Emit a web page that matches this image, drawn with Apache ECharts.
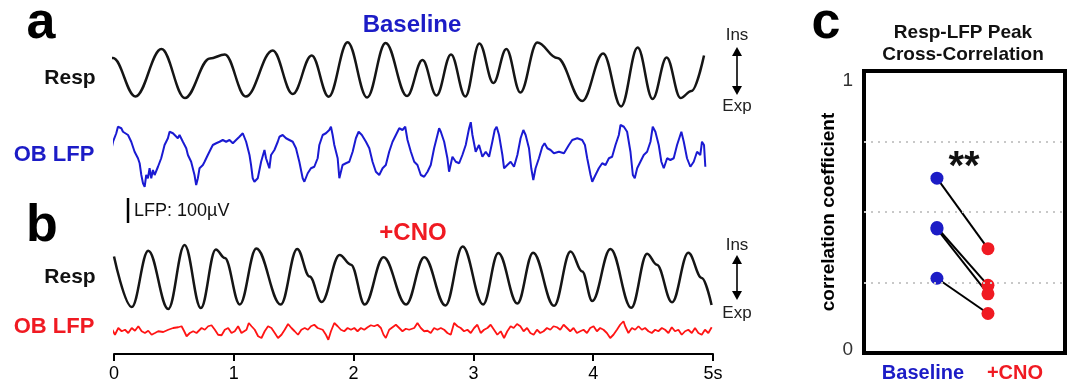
<!DOCTYPE html>
<html><head><meta charset="utf-8">
<script src="https://cdn.jsdelivr.net/npm/echarts@6/dist/echarts.min.js"></script>
<style>html,body{margin:0;padding:0;background:#fff}#c{width:1072px;height:387px}</style>
</head><body><div id="c"></div>
<script>
// ---------------- DATA ----------------
const timeTicks = [0, 1, 2, 3, 4, 5];           // seconds
// Respiration, baseline (t in s, amplitude a.u.) – extrema and shoulders
const respA = [[-0.083,21],[-0.008,17],[0.179,-21.5],[0.396,26],[0.592,-23],[0.8,16.5],[0.925,20.5],[1.1,-21.5],[1.325,24.5],[1.492,-19],[1.65,19.5],[1.792,-21.7],[1.95,32.7],[2.113,-22.5],[2.267,32],[2.446,-21],[2.575,15],[2.692,-20.5],[2.813,20.5],[2.933,-21.5],[3.05,31.5],[3.167,-8],[3.275,26],[3.392,-17.5],[3.533,32.5],[3.7,17],[3.908,-26],[4.083,21.5],[4.233,-31.5],[4.371,27.5],[4.496,-24],[4.613,17.5],[4.729,-23],[4.82,-16],[4.925,19.5]];
// OB LFP, baseline (t in s, µV)
const lfpA = [[-0.092,-67],[-0.078,-27],[-0.05,27],[-0.036,40],[-0.023,20],[-0.008,53],[0.019,87],[0.033,113],[0.061,107],[0.075,93],[0.089,100],[0.117,80],[0.131,87],[0.144,53],[0.172,13],[0.2,-13],[0.214,-33],[0.228,-80],[0.242,-113],[0.256,-127],[0.269,-80],[0.283,-93],[0.297,-53],[0.311,-93],[0.325,-60],[0.339,-80],[0.367,-47],[0.381,-53],[0.394,-13],[0.408,13],[0.422,40],[0.45,67],[0.464,93],[0.492,87],[0.506,80],[0.533,67],[0.547,80],[0.575,53],[0.603,27],[0.617,0],[0.644,-27],[0.672,-80],[0.686,-120],[0.7,-93],[0.714,-53],[0.742,-40],[0.756,-27],[0.783,0],[0.811,27],[0.825,40],[0.853,47],[0.881,53],[0.908,60],[0.936,53],[0.964,60],[0.992,47],[1.019,60],[1.047,73],[1.075,87],[1.089,80],[1.103,53],[1.131,0],[1.144,-40],[1.158,-93],[1.172,-107],
[1.2,-93],[1.228,-27],[1.256,20],[1.269,-13],[1.297,-53],[1.311,0],[1.339,20],[1.367,53],[1.381,73],[1.408,80],[1.436,67],[1.464,60],[1.492,53],[1.519,27],[1.547,-27],[1.575,-93],[1.589,-107],[1.617,-73],[1.644,-53],[1.672,-47],[1.7,-13],[1.714,40],[1.742,80],[1.769,87],[1.797,100],[1.811,113],[1.825,80],[1.839,40],[1.867,-13],[1.881,-93],[1.908,-40],[1.936,-33],[1.964,-27],[1.992,13],[2.019,67],[2.042,93],[2.069,80],[2.103,53],[2.131,27],[2.158,-27],[2.186,-67],[2.214,-80],[2.242,-53],[2.269,-40],[2.297,13],[2.325,53],[2.353,80],[2.381,107],[2.408,100],[2.431,113],[2.45,60],
[2.478,13],[2.506,-27],[2.533,-40],[2.561,-80],[2.589,-87],[2.617,-67],[2.644,-40],[2.672,27],[2.7,80],[2.714,107],[2.728,93],[2.756,53],[2.783,-13],[2.797,-67],[2.825,-7],[2.853,-27],[2.881,-33],[2.908,0],[2.936,40],[2.964,107],[2.978,131],[2.992,80],[3.019,13],[3.047,40],[3.075,-7],[3.103,13],[3.131,-7],[3.158,53],[3.178,100],[3.194,113],[3.214,80],[3.242,0],[3.256,-53],[3.283,-40],[3.311,-27],[3.339,-47],[3.367,0],[3.394,67],[3.417,100],[3.436,80],[3.464,27],[3.483,-53],[3.5,-100],[3.519,-53],[3.547,-13],[3.575,33],[3.594,47],[3.617,27],[3.644,20],[3.672,7],[3.714,13],[3.756,7],
[3.769,0],[3.797,40],[3.825,60],[3.867,67],[3.908,60],[3.931,40],[3.95,-13],[3.978,-80],[3.992,-107],[4.019,-80],[4.047,-53],[4.075,-33],[4.103,-40],[4.131,-13],[4.158,-7],[4.186,40],[4.214,80],[4.228,120],[4.256,113],[4.283,93],[4.311,13],[4.331,-80],[4.347,-93],[4.367,-53],[4.394,-27],[4.422,0],[4.45,13],[4.478,53],[4.497,113],[4.519,93],[4.547,40],[4.569,-27],[4.589,-53],[4.617,-13],[4.644,-20],[4.672,-13],[4.7,40],[4.736,93],[4.756,53],[4.783,-13],[4.811,-47],[4.839,-27],[4.867,13],[4.894,0],[4.908,53],[4.925,40],[4.936,-47]];
// Respiration, +CNO – extrema and shoulders
const respB = [[0,23.5],[0.148,-27],[0.286,29.3],[0.453,-29],[0.589,35],[0.725,-28],[0.85,30.5],[0.925,22],[1.05,-24.5],[1.188,31.5],[1.392,-24.5],[1.529,31],[1.633,3.5],[1.733,-22],[1.883,25],[1.978,15.3],[2.093,-24.5],[2.25,22.7],[2.438,-24.5],[2.59,22.8],[2.767,-25.5],[2.91,33.5],[3.081,-24.5],[3.208,27],[3.367,-23.5],[3.498,27.3],[3.673,-25.8],[3.811,28.5],[3.908,8.5],[3.992,-21],[4.144,31],[4.318,-27.8],[4.45,26.3],[4.531,15.3],[4.658,-22.3],[4.794,27.2],[4.906,2],[4.988,-25]];
// OB LFP, +CNO (µV)
const lfpB = [[-0.014,1],[0.008,-19],[0.036,8],[0.064,-5],[0.092,1],[0.119,-12],[0.148,8],[0.175,-3],[0.203,15],[0.231,-5],[0.258,-12],[0.286,-3],[0.314,-19],[0.342,-12],[0.369,-5],[0.411,-8],[0.453,1],[0.494,8],[0.536,11],[0.564,15],[0.586,-5],[0.606,-25],[0.633,-12],[0.661,-5],[0.689,-12],[0.731,8],[0.758,1],[0.786,15],[0.814,19],[0.842,1],[0.869,-19],[0.898,-21],[0.925,1],[0.953,8],[0.981,-12],[1.008,-5],[1.036,15],[1.064,-12],[1.106,1],[1.125,28],[1.148,15],[1.175,1],[1.203,-25],[1.231,-32],[1.258,-5],[1.286,15],[1.314,8],[1.342,-12],[1.369,-32],[1.398,-19],[1.425,1],[1.453,24],[1.481,8],[1.508,-5],[1.536,-19],[1.564,1],[1.592,8],[1.619,1],
[1.644,15],[1.672,21],[1.7,8],[1.742,1],[1.769,-19],[1.789,-39],[1.811,-5],[1.839,28],[1.867,15],[1.894,1],[1.922,-5],[1.95,8],[1.978,1],[2.006,8],[2.033,-5],[2.061,8],[2.089,1],[2.117,11],[2.144,19],[2.172,15],[2.2,21],[2.228,8],[2.25,-19],[2.269,-32],[2.297,1],[2.325,11],[2.353,21],[2.381,8],[2.408,-5],[2.436,5],[2.464,1],[2.506,8],[2.533,28],[2.561,8],[2.589,-5],[2.617,-3],[2.644,-12],[2.672,8],[2.7,1],[2.728,8],[2.756,1],[2.783,-12],[2.811,-19],[2.839,28],[2.867,15],[2.894,8],[2.922,-5],[2.95,1],[2.978,-12],[3.006,8],[3.033,21],[3.061,-12],[3.089,1],[3.117,8],[3.144,21],[3.172,1],[3.2,-19],[3.228,-5],[3.256,-32],[3.283,-5],[3.311,15],
[3.336,8],[3.364,24],[3.392,15],[3.419,-5],[3.448,8],[3.475,-12],[3.503,-19],[3.531,1],[3.558,-12],[3.586,-5],[3.614,8],[3.642,1],[3.669,15],[3.698,11],[3.725,1],[3.753,21],[3.781,8],[3.808,-5],[3.836,8],[3.864,-12],[3.892,-5],[3.919,1],[3.948,-12],[3.975,8],[4.003,15],[4.031,-5],[4.058,8],[4.086,1],[4.114,-12],[4.142,-32],[4.169,-19],[4.198,1],[4.225,21],[4.253,35],[4.267,15],[4.294,-12],[4.323,8],[4.35,1],[4.378,15],[4.406,1],[4.433,8],[4.461,-5],[4.489,-12],[4.517,1],[4.544,-5],[4.573,8],[4.6,1],[4.628,-12],[4.656,11],[4.683,-5],[4.711,1],[4.739,-19],[4.767,-5],[4.794,1],[4.823,-12],[4.85,8],[4.878,-12],[4.906,-19],[4.933,1],[4.961,-12],[4.989,11]];
const scaleBarUV = 100;                           // LFP scale bar (µV)
// Panel c
const corrCategories = ['Baseline', '+CNO'];
const corrBaseline = [0.62, 0.445, 0.44, 0.265];
const corrCNO      = [0.37, 0.24, 0.21, 0.14];
const corrGridLines = [0.25, 0.5, 0.75];
const corrTicks = [0, 1];

// ---------------- STYLE ----------------
const FONT = '"Liberation Sans", Arial, Helvetica, sans-serif';
const BLUE = '#1c1cc6', RED = '#f01a22', TRACE_BLUE = '#1a1ad2', TRACE_RED = '#ff1414';
const L = 114, W = 599;

const chart = echarts.init(document.getElementById('c'), null, {renderer: 'canvas'});

const hiddenX = (g) => ({gridIndex: g, type: 'value', min: timeTicks[0], max: timeTicks[timeTicks.length-1], show: false});
const hiddenY = (g, mn, mx) => ({gridIndex: g, type: 'value', min: mn, max: mx, show: false});

function txt(text, x, y, size, color, weight, align) {
  return {type: 'text', x: x, y: y, silent: true, style: {
    text: text, fill: color || '#000', font: (weight || 'normal') + ' ' + size + 'px ' + FONT,
    align: align || 'center', verticalAlign: 'middle', textAlign: align || 'center', textVerticalAlign: 'middle'}};
}
function arrow(x, y1, y2) {
  return [
    {type: 'line', silent: true, shape: {x1: x, y1: y1 + 7, x2: x, y2: y2 - 7}, style: {stroke: '#000', lineWidth: 1.6}},
    {type: 'polygon', silent: true, shape: {points: [[x, y1], [x - 5, y1 + 9], [x + 5, y1 + 9]]}, style: {fill: '#000'}},
    {type: 'polygon', silent: true, shape: {points: [[x, y2], [x - 5, y2 - 9], [x + 5, y2 - 9]]}, style: {fill: '#000'}}
  ];
}

const corrLineSeries = corrBaseline.map((b, i) => ({
  type: 'line', xAxisIndex: 4, yAxisIndex: 4, z: 3, showSymbol: false, silent: true,
  lineStyle: {color: '#000', width: 2},
  data: [[0, b], [1, corrCNO[i]]]
}));

const respStyle = {smooth: 0.38, smoothMonotone: 'x', showSymbol: false, clip: false,
                   lineStyle: {color: '#151515', width: 2.5}};

const option = {
  animation: false,
  textStyle: {fontFamily: FONT},
  grid: [
    {left: L, width: W, top: 35, height: 75},
    {left: L, width: W, top: 110, height: 115},
    {left: L, width: W, top: 238, height: 80},
    {left: L, width: W, top: 318, height: 36},
    {left: 864, width: 201, top: 71, height: 282, show: true, borderColor: '#000', borderWidth: 4, backgroundColor: 'transparent'}
  ],
  xAxis: [
    hiddenX(0), hiddenX(1), hiddenX(2),
    {gridIndex: 3, type: 'value', min: timeTicks[0], max: timeTicks[timeTicks.length-1], interval: 1,
     axisLine: {show: true, onZero: false, lineStyle: {color: '#000', width: 2}},
     axisTick: {show: true, length: 7, lineStyle: {color: '#000', width: 2}},
     splitLine: {show: false},
     axisLabel: {margin: 11, fontSize: 18, color: '#000', fontFamily: FONT,
       formatter: v => (v === timeTicks[timeTicks.length-1] ? v + 's' : String(v))}},
    {gridIndex: 4, type: 'value', min: -1.43, max: 2.51, show: false}
  ],
  yAxis: [
    hiddenY(0, -35, 40),
    hiddenY(1, -280, 180),
    hiddenY(2, -38, 42),
    hiddenY(3, -96, 48),
    {gridIndex: 4, type: 'value', min: 0, max: 1, interval: 0.25,
     axisLine: {show: false}, axisTick: {show: false}, splitLine: {show: false},
     name: 'correlation coefficient', nameLocation: 'middle', nameGap: 20,
     nameTextStyle: {fontSize: 19, fontWeight: 'bold', color: '#000', fontFamily: FONT},
     axisLabel: {margin: 11, color: '#333', fontSize: 19, fontFamily: FONT,
       formatter: v => (v === corrTicks[1] ? '{t|' + v + '}' : v === corrTicks[0] ? '{b|' + v + '}' : ''),
       rich: {t: {padding: [20, 0, 0, 0], fontSize: 19, color: '#333'}, b: {padding: [0, 0, 6, 0], fontSize: 19, color: '#333'}}}}
  ],
  series: [
    Object.assign({type: 'line', name: 'Resp baseline', xAxisIndex: 0, yAxisIndex: 0, data: respA}, respStyle),
    {type: 'line', name: 'OB LFP baseline', xAxisIndex: 1, yAxisIndex: 1, data: lfpA, showSymbol: false, clip: false,
     lineStyle: {color: TRACE_BLUE, width: 2}},
    {type: 'line', name: 'scale bar', xAxisIndex: 1, yAxisIndex: 1, showSymbol: false, clip: false,
     data: [[0.117, -272], [0.117, -272 + scaleBarUV]], lineStyle: {color: '#000', width: 2.5}},
    Object.assign({type: 'line', name: 'Resp CNO', xAxisIndex: 2, yAxisIndex: 2, data: respB}, respStyle),
    {type: 'line', name: 'OB LFP CNO', xAxisIndex: 3, yAxisIndex: 3, data: lfpB, showSymbol: false, clip: false,
     lineStyle: {color: TRACE_RED, width: 1.8}},
    {type: 'line', xAxisIndex: 4, yAxisIndex: 4, data: [], z: 1, silent: true,
     markLine: {silent: true, symbol: 'none', label: {show: false},
       lineStyle: {type: [2, 5], color: '#c8c8c8', width: 2},
       data: corrGridLines.map(v => ({yAxis: v}))}},
    ...corrLineSeries,
    {type: 'scatter', name: corrCategories[0], xAxisIndex: 4, yAxisIndex: 4, z: 4, symbolSize: 13,
     itemStyle: {color: BLUE, opacity: 1}, data: corrBaseline.map(v => [0, v])},
    {type: 'scatter', name: corrCategories[1], xAxisIndex: 4, yAxisIndex: 4, z: 4, symbolSize: 13,
     itemStyle: {color: RED, opacity: 1}, data: corrCNO.map(v => [1, v])}
  ],
  graphic: [
    txt('a', 41, 24, 52, '#000', 'bold'),
    txt('b', 42, 227, 52, '#000', 'bold'),
    txt('c', 826, 24, 52, '#000', 'bold'),
    txt('Baseline', 412, 25, 24, BLUE, 'bold'),
    txt('Resp', 70, 78, 21, '#111', 'bold'),
    txt('OB LFP', 54, 155, 22, BLUE, 'bold'),
    txt('Ins', 737, 35, 17, '#222'),
    txt('Exp', 737, 106, 17, '#222'),
    ...arrow(737, 47, 95),
    txt('LFP: 100µV', 134, 211, 18, '#111', 'normal', 'left'),
    txt('+CNO', 413, 233, 24, RED, 'bold'),
    txt('Resp', 70, 277, 21, '#111', 'bold'),
    txt('OB LFP', 54, 327, 22, RED, 'bold'),
    txt('Ins', 737, 245, 17, '#222'),
    txt('Exp', 737, 313, 17, '#222'),
    ...arrow(737, 255, 300),
    txt('Resp-LFP Peak', 963, 33, 19, '#111', 'bold'),
    txt('Cross-Correlation', 963, 55, 19, '#111', 'bold'),
    txt('**', 964, 168, 40, '#111', 'bold'),
    txt(corrCategories[0], 923, 373, 20, BLUE, 'bold'),
    txt(corrCategories[1], 1015, 373, 20, RED, 'bold')
  ]
};
chart.setOption(option);
</script>
</body></html>
